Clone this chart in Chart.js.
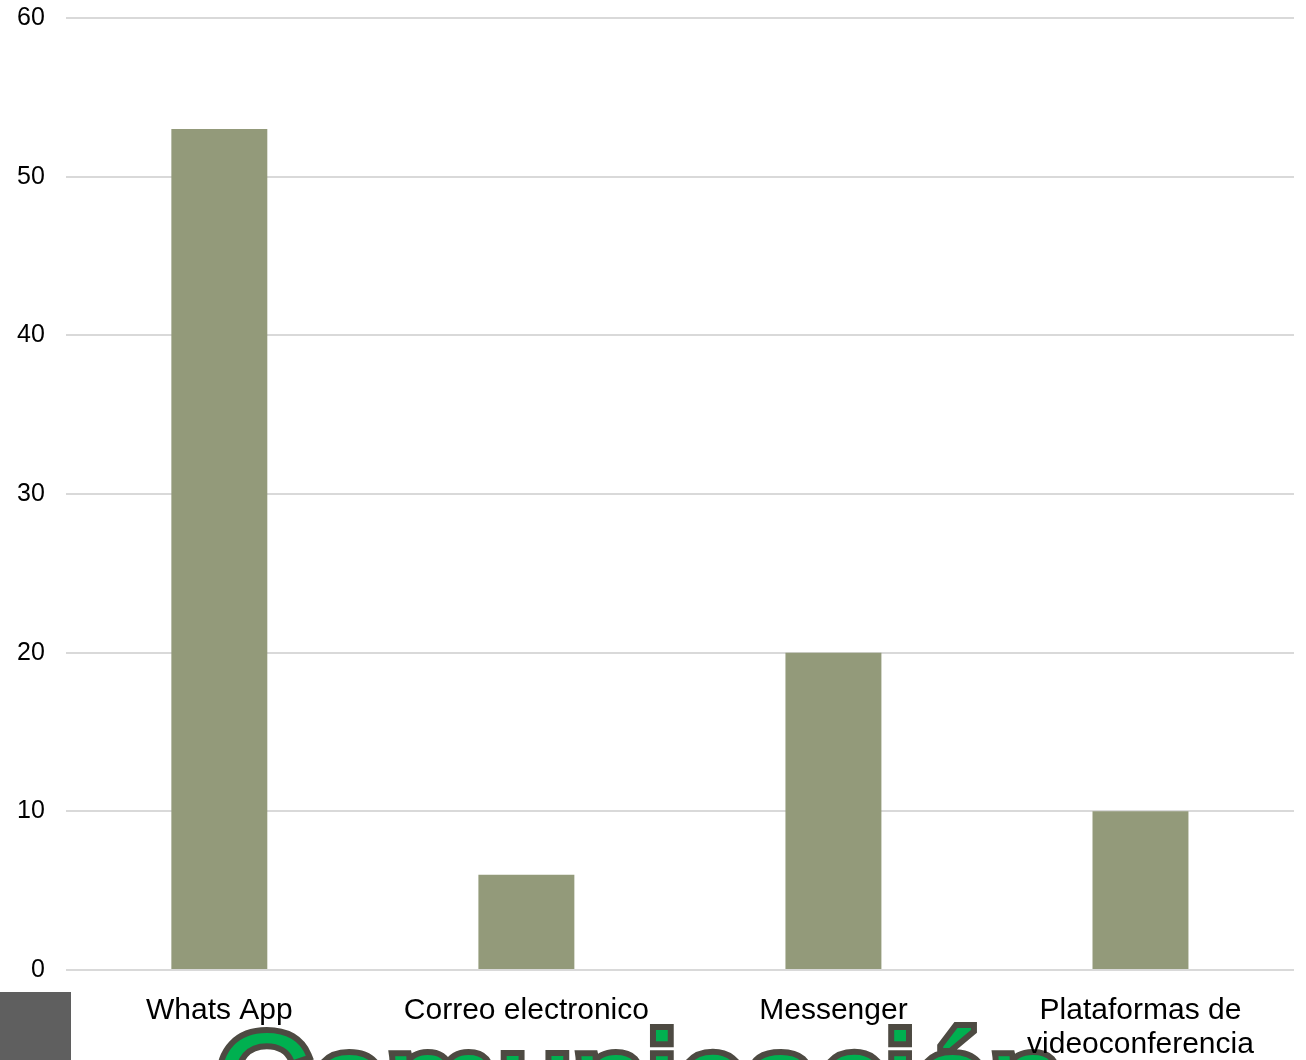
<!DOCTYPE html>
<html>
<head>
<meta charset="utf-8">
<script src="https://cdn.jsdelivr.net/npm/chart.js@4"></script>
<style>
  html, body { margin: 0; padding: 0; background: #fff; overflow: hidden; }
  #wrap { position: relative; width: 1306px; height: 1060px; overflow: hidden; }
  #chart-bars { position: absolute; left: 0; top: -18px; z-index: 2; }
  #box { position: absolute; left: 0; top: 992px; width: 71px; height: 68px; background: #5f5f5f; z-index: 1; }
  #title {
    position: absolute; left: 215px; top: 1014px; z-index: 1;
    font-family: "Liberation Sans", sans-serif; font-size: 134px; font-weight: normal;
    color: #00b050; -webkit-text-stroke: 12px #4d4a42; paint-order: stroke fill;
    white-space: nowrap; line-height: 1;
  }
</style>
</head>
<body>
<div id="wrap">
  <canvas id="chart-bars" width="1306" height="1078"></canvas>
  <div id="box"></div>
  <div id="title">Comunicación</div>
</div>
<script>
var labels = ["Whats App", "Correo electronico", "Messenger", ["Plataformas de", "videoconferencia"]];
var values = [53, 6, 20, 10];
var yTicks = [0, 10, 20, 30, 40, 50, 60];

var ctx = document.getElementById("chart-bars").getContext("2d");

new Chart(ctx, {
  type: "bar",
  data: {
    labels: labels,
    datasets: [
      {
        label: "Comunicación",
        data: values,
        backgroundColor: "#939a7a",
        borderWidth: 0,
        barPercentage: 0.625,
        categoryPercentage: 0.5,
      },
    ],
  },
  options: {
    responsive: false,
    animation: false,
    layout: {
      padding: { top: 0, right: 12, left: -4, bottom: -26 },
    },
    plugins: {
      legend: { display: false },
      tooltip: { enabled: false },
    },
    scales: {
      y: {
        min: 0,
        max: 60,
        afterBuildTicks: function (axis) {
          axis.ticks = yTicks.map(function (v) { return { value: v }; });
        },
        border: { display: false },
        grid: {
          color: "#d9d9d9",
          lineWidth: 2,
          drawTicks: false,
        },
        ticks: {
          padding: 21,
          color: "#000",
          font: { size: 25, family: "Liberation Sans" },
        },
      },
      x: {
        border: { display: false },
        grid: { display: false, drawTicks: false },
        ticks: {
          padding: 24,
          color: "#000",
          maxRotation: 0,
          autoSkip: false,
          font: { size: 30, family: "Liberation Sans", lineHeight: 1.133 },
        },
      },
    },
  },
});
</script>
</body>
</html>
